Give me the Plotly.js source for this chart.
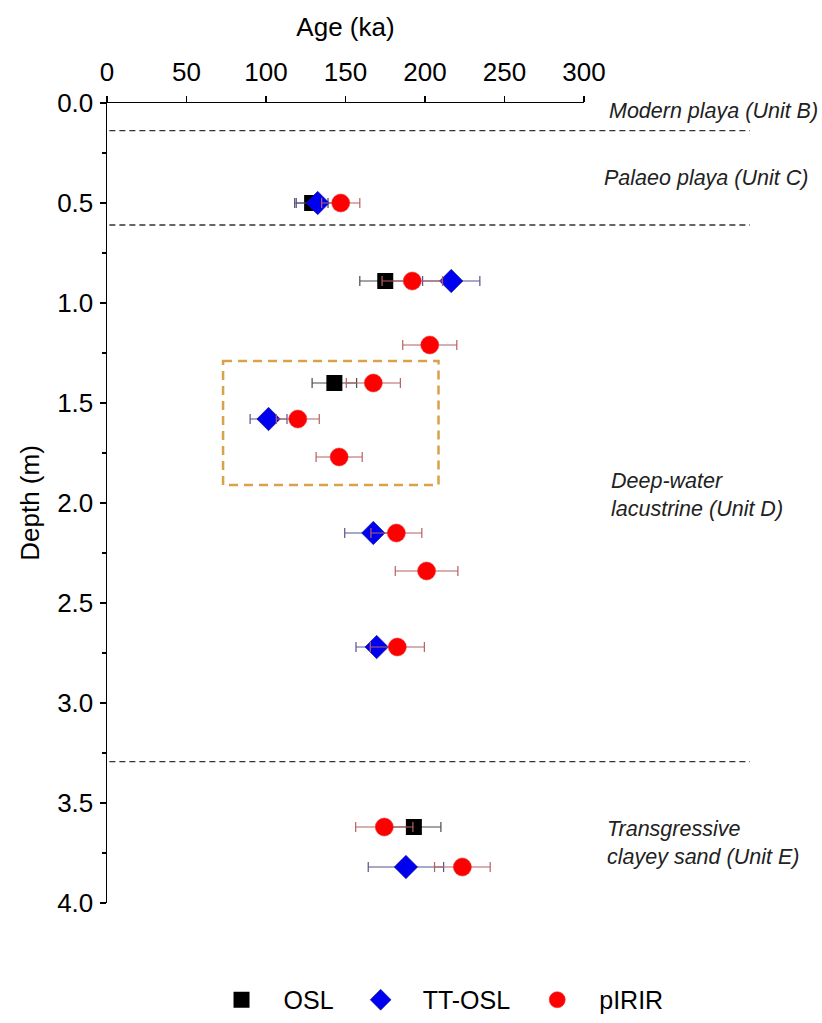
<!DOCTYPE html>
<html>
<head>
<meta charset="utf-8">
<script src="https://cdn.plot.ly/plotly-3.0.1.min.js"></script>
<style>
  html, body { margin: 0; padding: 0; background: #fff; }
  #chart { width: 822px; height: 1023px; }
</style>
</head>
<body>
<div id="chart"></div>
<script>
// Sample ages (ka) against depth (m), with 1-sigma age uncertainties
const oslDepth = [0.50, 0.89, 1.40, 3.62];
const oslAge   = [129, 175, 143, 193];
const oslErr   = [10, 16, 14, 17];

const ttDepth = [0.50, 0.89, 1.58, 2.15, 2.72, 3.82];
const ttAge   = [132.5, 216.5, 101.6, 167.5, 169.6, 188];
const ttErr   = [14.5, 18, 11.6, 18, 13, 23.7];

const irDepth = [0.50, 0.89, 1.21, 1.40, 1.58, 1.77, 2.15, 2.34, 2.72, 3.62, 3.82];
const irAge   = [147, 192, 203, 167.5, 120, 146, 182, 201, 182.6, 174.4, 223.5];
const irErr   = [12, 19, 17, 17, 13.5, 14.5, 16, 19.7, 17, 18, 17.5];

// Stratigraphic unit boundaries (m)
const unitBoundaries = [0.138, 0.61, 3.293];

const xTickVals = [0, 50, 100, 150, 200, 250, 300];
const yTickVals = [0, 0.5, 1, 1.5, 2, 2.5, 3, 3.5, 4];

const FONT = 'Arial, "Liberation Sans", sans-serif';

const traces = [
  {
    name: 'OSL', type: 'scatter', mode: 'markers',
    x: oslAge, y: oslDepth,
    marker: { symbol: 'square', size: 16, color: '#000000' },
    error_x: { type: 'data', array: oslErr, color: '#4a4a4a', thickness: 1.2, width: 5 }
  },
  {
    name: 'TT-OSL', type: 'scatter', mode: 'markers',
    x: ttAge, y: ttDepth,
    marker: { symbol: 'diamond', size: 18, color: '#0000f0', line: { color: '#10108a', width: 0.6 } },
    error_x: { type: 'data', array: ttErr, color: '#555590', thickness: 1.2, width: 5 }
  },
  {
    name: 'pIRIR', type: 'scatter', mode: 'markers',
    x: irAge, y: irDepth,
    marker: { symbol: 'circle', size: 18, color: '#ff0000', line: { color: '#e83030', width: 0.6 } },
    error_x: { type: 'data', array: irErr, color: '#b86060', thickness: 1.2, width: 5 }
  }
];

const shapes = unitBoundaries.map(d => ({
  type: 'line', xref: 'paper', yref: 'y',
  x0: 0.005, x1: 1.348, y0: d, y1: d,
  line: { color: '#333333', width: 1.4, dash: '6px,4px' }
}));
// Highlight box around the middle samples
shapes.push({
  type: 'rect', xref: 'x', yref: 'y',
  x0: 73, x1: 208.5, y0: 1.29, y1: 1.91,
  line: { color: '#d9a24a', width: 2.5, dash: '9px,6px' }
});

const noteFont = { family: FONT, size: 21.5, color: '#222', style: 'italic' };
const annotations = [
  { text: 'Modern playa (Unit B)', x: 1.495, y: 0.04, xanchor: 'right' },
  { text: 'Palaeo playa (Unit C)', x: 1.474, y: 0.375, xanchor: 'right' },
  { text: 'Deep-water<br>lacustrine (Unit D)', x: 1.053, y: 1.96, xanchor: 'left' },
  { text: 'Transgressive<br>clayey sand (Unit E)', x: 1.044, y: 3.70, xanchor: 'left' }
].map(a => Object.assign({
  xref: 'paper', yref: 'y', yanchor: 'middle', align: 'left',
  showarrow: false, font: noteFont
}, a));

const layout = {
  width: 822, height: 1023,
  margin: { l: 107, r: 238, t: 103, b: 120 },
  paper_bgcolor: '#ffffff', plot_bgcolor: '#ffffff',
  font: { family: FONT, color: '#000' },
  showlegend: true,
  legend: {
    orientation: 'h', xref: 'container', yref: 'container',
    x: 0.528, y: 0.0225, xanchor: 'center', yanchor: 'middle',
    font: { family: FONT, size: 25, color: '#000' },
    itemwidth: 74
  },
  xaxis: {
    side: 'top', range: [0, 300], tickvals: xTickVals,
    showgrid: false, zeroline: false,
    showline: true, linecolor: '#000', linewidth: 1.5,
    ticks: 'outside', ticklen: 6, tickwidth: 1.5, tickcolor: '#000',
    ticklabelstandoff: 4,
    tickfont: { family: FONT, size: 26, color: '#000' },
    title: { text: 'Age (ka)', font: { family: FONT, size: 26, color: '#000' }, standoff: 13 }
  },
  yaxis: {
    range: [4, 0], tickvals: yTickVals, tickformat: '.1f',
    showgrid: false, zeroline: false,
    showline: true, linecolor: '#000', linewidth: 1.5,
    ticks: 'outside', ticklen: 6, tickwidth: 1.5, tickcolor: '#000',
    ticklabelstandoff: 1,
    minor: { dtick: 0.25, ticks: 'outside', ticklen: 4, tickwidth: 1.2, tickcolor: '#000', showgrid: false },
    tickfont: { family: FONT, size: 26, color: '#000' },
    title: { text: 'Depth (m)', font: { family: FONT, size: 26, color: '#000' }, standoff: 10 }
  },
  shapes: shapes,
  annotations: annotations
};

Plotly.newPlot('chart', traces, layout, { displayModeBar: false, staticPlot: true });
</script>
</body>
</html>
